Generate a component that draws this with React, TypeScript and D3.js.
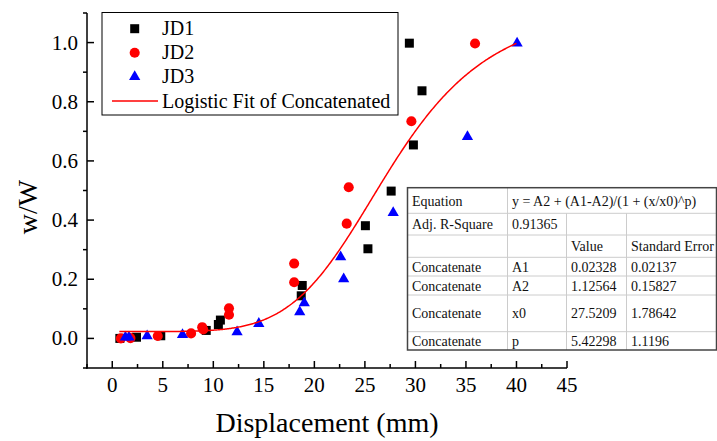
import React, { useEffect, useRef } from "react";
import * as d3 from "d3";

// scatter data
const jd1X = [0.75, 2.4, 4.8, 9.3, 10.5, 10.7, 18.7, 18.8, 25.05, 25.3, 27.6, 29.8, 30.65, 29.4];
const jd1Y = [0.0, 0.004, 0.009, 0.027, 0.047, 0.062, 0.144, 0.179, 0.381, 0.303, 0.498, 0.654, 0.837, 0.998];

const jd2X = [0.85, 1.8, 4.5, 7.8, 8.9, 9.0, 11.55, 11.55, 18.0, 18.0, 23.2, 23.4, 29.6, 35.9];
const jd2Y = [0.0, 0.001, 0.008, 0.017, 0.038, 0.03, 0.102, 0.08, 0.253, 0.19, 0.388, 0.511, 0.734, 0.997];

const jd3X = [1.3, 1.65, 3.45, 6.95, 12.35, 14.5, 18.55, 19.0, 22.6, 22.9, 27.8, 35.15, 40.06];
const jd3Y = [0.004, 0.004, 0.008, 0.012, 0.022, 0.05, 0.089, 0.12, 0.275, 0.201, 0.425, 0.682, 0.998];

// logistic fit parameters (from the table)
const fitParams = { A1: 0.02328, A2: 1.12564, x0: 27.5209, p: 5.42298 };
const fitRange = [0.7, 40];

const xTicks = [0, 5, 10, 15, 20, 25, 30, 35, 40, 45];
const yTicks = [0.0, 0.2, 0.4, 0.6, 0.8, 1.0];

const legendLabels = ["JD1", "JD2", "JD3", "Logistic Fit of Concatenated"];

const tableCol1 = ["Equation", "Adj. R-Square", "", "Concatenate", "Concatenate", "Concatenate", "Concatenate"];
const tableCol2 = ["y = A2 + (A1-A2)/(1 + (x/x0)^p)", "0.91365", "", "A1", "A2", "x0", "p"];
const tableCol3 = ["", "", "Value", "0.02328", "1.12564", "27.5209", "5.42298"];
const tableCol4 = ["", "", "Standard Error", "0.02137", "0.15827", "1.78642", "1.1196"];

const FONT = "'Liberation Serif', 'Times New Roman', serif";

export default function App() {
  const ref = useRef<SVGSVGElement>(null);

  useEffect(() => {
    const svg = d3.select(ref.current);
    svg.selectAll("*").remove();

    const left = 87, right = 567, top = 13, bottom = 368;

    const x = d3.scaleLinear().domain([-2.5, 45]).range([left, right]);
    const y = d3.scaleLinear().domain([-0.1, 1.1]).range([bottom, top]);

    // axes lines
    svg.append("line").attr("x1", left).attr("x2", left).attr("y1", top).attr("y2", bottom + 0.75)
      .attr("stroke", "black").attr("stroke-width", 1.5);
    svg.append("line").attr("x1", left - 0.75).attr("x2", right).attr("y1", bottom).attr("y2", bottom)
      .attr("stroke", "black").attr("stroke-width", 1.5);

    // x ticks: major inward, minor
    d3.range(-2.5, 45.01, 2.5).forEach(v => {
      const major = Math.abs(v % 5) < 1e-6;
      svg.append("line").attr("x1", x(v)).attr("x2", x(v))
        .attr("y1", bottom).attr("y2", major ? bottom - 7 : bottom - 4)
        .attr("stroke", "black").attr("stroke-width", 1.5);
    });
    xTicks.forEach(v => {
      svg.append("text").attr("x", x(v)).attr("y", bottom + 24)
        .attr("text-anchor", "middle").attr("font-family", FONT).attr("font-size", 21)
        .text(String(v));
    });

    // y ticks: major inward, minor outward
    d3.range(-0.1, 1.1001, 0.1).forEach(v => {
      const major = Math.abs(Math.round(v * 10) % 2) === 0;
      svg.append("line").attr("x1", left).attr("x2", major ? left + 7 : left - 4)
        .attr("y1", y(v)).attr("y2", y(v))
        .attr("stroke", "black").attr("stroke-width", 1.5);
    });
    yTicks.forEach(v => {
      svg.append("text").attr("x", left - 9).attr("y", y(v) + 7)
        .attr("text-anchor", "end").attr("font-family", FONT).attr("font-size", 21)
        .text(v.toFixed(1));
    });

    // axis titles
    svg.append("text").attr("x", (left + right) / 2).attr("y", 432)
      .attr("text-anchor", "middle").attr("font-family", FONT).attr("font-size", 28)
      .text("Displacement (mm)");
    svg.append("text").attr("transform", "translate(37,207) rotate(-90)")
      .attr("text-anchor", "middle").attr("font-family", FONT).attr("font-size", 28)
      .text("w/W");

    // scatter
    const sq = d3.symbol(d3.symbolSquare, 81)();
    const circ = d3.symbol(d3.symbolCircle, 80)();
    const tri = d3.symbol(d3.symbolTriangle, 55)();

    svg.append("g").selectAll("path").data(jd1X).enter().append("path")
      .attr("d", sq).attr("fill", "black")
      .attr("transform", (d, i) => "translate(" + x(d) + "," + y(jd1Y[i]) + ")");
    svg.append("g").selectAll("path").data(jd2X).enter().append("path")
      .attr("d", circ).attr("fill", "#ff0000")
      .attr("transform", (d, i) => "translate(" + x(d) + "," + y(jd2Y[i]) + ")");
    svg.append("g").selectAll("path").data(jd3X).enter().append("path")
      .attr("d", tri).attr("fill", "#0000ff")
      .attr("transform", (d, i) => "translate(" + x(d) + "," + y(jd3Y[i]) + ")");

    // fit curve
    const { A1, A2, x0, p } = fitParams;
    const fitXs = d3.range(fitRange[0], fitRange[1] + 0.001, 0.1);
    const line = d3.line<number>()
      .x(d => x(d))
      .y(d => y(A2 + (A1 - A2) / (1 + Math.pow(d / x0, p))));
    svg.append("path").datum(fitXs).attr("d", line).attr("fill", "none")
      .attr("stroke", "#ff0000").attr("stroke-width", 1.5);

    // legend
    const lg = svg.append("g");
    lg.append("rect").attr("x", 102).attr("y", 12.5).attr("width", 296).attr("height", 102.5)
      .attr("fill", "white").attr("stroke", "black").attr("stroke-width", 1);
    const ly = [28.7, 52.7, 76.7, 101];
    lg.append("path").attr("d", sq).attr("fill", "black").attr("transform", `translate(134.7,${ly[0]})`);
    lg.append("path").attr("d", circ).attr("fill", "#ff0000").attr("transform", `translate(134.7,${ly[1]})`);
    lg.append("path").attr("d", tri).attr("fill", "#0000ff").attr("transform", `translate(134.7,${ly[2]})`);
    lg.append("line").attr("x1", 112).attr("x2", 158).attr("y1", ly[3]).attr("y2", ly[3])
      .attr("stroke", "#ff0000").attr("stroke-width", 1.5);
    legendLabels.forEach((t, i) => {
      lg.append("text").attr("x", 162).attr("y", ly[i] + 6.5)
        .attr("font-family", FONT).attr("font-size", 20).text(t);
    });

    // fit table
    const tg = svg.append("g");
    const cols = [407.5, 507.5, 566.5, 626.5, 716.5];
    const rows = [187.7, 213.3, 235, 257.3, 276, 295, 331.7, 350];
    tg.append("rect").attr("x", cols[0]).attr("y", rows[0])
      .attr("width", cols[4] - cols[0]).attr("height", rows[7] - rows[0])
      .attr("fill", "white");
    for (let r = 1; r < rows.length - 1; r++) {
      tg.append("line").attr("x1", cols[0]).attr("x2", cols[4]).attr("y1", rows[r]).attr("y2", rows[r])
        .attr("stroke", "#cccccc").attr("stroke-width", 1);
    }
    tg.append("line").attr("x1", cols[1]).attr("x2", cols[1]).attr("y1", rows[0]).attr("y2", rows[7])
      .attr("stroke", "#cccccc").attr("stroke-width", 1);
    [cols[2], cols[3]].forEach(cx => {
      tg.append("line").attr("x1", cx).attr("x2", cx).attr("y1", rows[1]).attr("y2", rows[7])
        .attr("stroke", "#cccccc").attr("stroke-width", 1);
    });
    tg.append("rect").attr("x", cols[0]).attr("y", rows[0])
      .attr("width", cols[4] - cols[0]).attr("height", rows[7] - rows[0])
      .attr("fill", "none").attr("stroke", "#444444").attr("stroke-width", 1.5);

    const colsText = [tableCol1, tableCol2, tableCol3, tableCol4];
    colsText.forEach((col, c) => {
      col.forEach((t, r) => {
        if (!t) return;
        const cy = (rows[r] + rows[r + 1]) / 2;
        tg.append("text").attr("x", cols[c] + 4.5).attr("y", cy + 5)
          .attr("font-family", FONT).attr("font-size", 14).attr("fill", "#111")
          .text(t);
      });
    });
  }, []);

  return (
    <svg ref={ref} width={717} height={441}
      style={{ position: "absolute", left: 0, top: 0, background: "white" }} />
  );
}
